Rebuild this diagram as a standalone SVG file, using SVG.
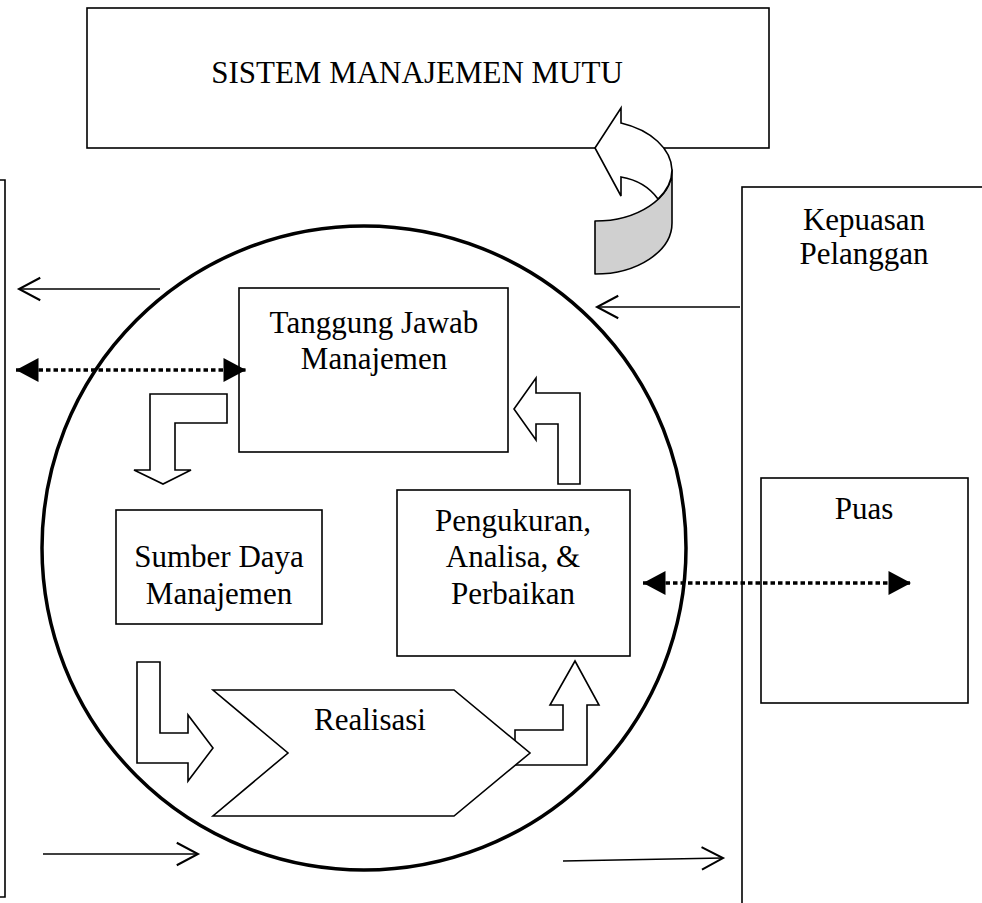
<svg xmlns="http://www.w3.org/2000/svg" width="982" height="903" viewBox="0 0 982 903">
<defs>
<style>
.bx{fill:#fff;stroke:#000;stroke-width:1.6}
.ln{fill:none;stroke:#000;stroke-width:1.6}
.dot{fill:none;stroke:#000;stroke-width:3.5;stroke-dasharray:4.5 3}
.sh{fill:#fff;stroke:#000;stroke-width:1.6;stroke-linejoin:miter}
.t{font-family:"Liberation Serif","Times New Roman",serif;font-size:31px;fill:#000;text-anchor:middle}
</style>
<marker id="open" markerUnits="userSpaceOnUse" markerWidth="30" markerHeight="30" viewBox="-20 -12 24 24" refX="0" refY="0" orient="auto">
<path d="M-17,-9 L0,0 L-17,9" fill="none" stroke="#000" stroke-width="1.6"/>
</marker>
<marker id="tri" markerUnits="userSpaceOnUse" markerWidth="30" markerHeight="30" viewBox="-18 -10 20 20" refX="0" refY="0" orient="auto-start-reverse">
<path d="M-15,-8 L0,0 L-15,8 Z" fill="#000" stroke="none"/>
</marker>
</defs>

<g id="sistem">
<rect class="bx" x="87" y="8" width="682" height="140"/>
<text class="t" x="417" y="83">SISTEM MANAJEMEN MUTU</text>
</g>

<g id="left-box">
<path class="ln" d="M0,180 H5 V897 H0"/>
</g>

<g id="kepuasan">
<rect class="bx" x="742" y="187" width="260" height="730"/>
<text class="t" x="864" y="230">Kepuasan</text>
<text class="t" x="864" y="264">Pelanggan</text>
</g>

<g id="puas">
<rect class="bx" x="761" y="478" width="207" height="225"/>
<text class="t" x="864" y="519">Puas</text>
</g>

<g id="circle">
<circle cx="364" cy="548" r="322" fill="none" stroke="#000" stroke-width="3.5"/>
</g>

<g id="curved-arrow">
<path d="M595,221 A77,51 0 0 0 672,170 L672,223 A77,51 0 0 1 595,274 Z" fill="#d0d0d0" stroke="#000" stroke-width="1.6" stroke-linejoin="round"/>
<path d="M595,148 L621,108 L621,123 A77,51 0 0 1 672,170 A77,51 0 0 1 658,199 Q645,181 621,177 L621,196 Z" class="sh"/>
</g>

<g id="tanggung-jawab">
<rect class="bx" x="239" y="288" width="269" height="164"/>
<text class="t" x="374" y="333">Tanggung Jawab</text>
<text class="t" x="374" y="369">Manajemen</text>
</g>

<g id="sumber-daya">
<rect class="bx" x="116" y="510" width="206" height="114"/>
<text class="t" x="219" y="567">Sumber Daya</text>
<text class="t" x="219" y="604">Manajemen</text>
</g>

<g id="pengukuran">
<rect class="bx" x="397" y="490" width="233" height="166"/>
<text class="t" x="513" y="531">Pengukuran,</text>
<text class="t" x="513" y="567">Analisa, &amp;</text>
<text class="t" x="513" y="604">Perbaikan</text>
</g>

<g id="arrow-down">
<polygon class="sh" points="150,394 227,394 227,423 175,423 175,470 191,470 163,484 134,470 150,470"/>
</g>
<g id="arrow-up-left">
<polygon class="sh" points="514,409 536,378 536,393 580,393 580,484 558,484 558,424 536,424 536,440"/>
</g>
<g id="arrow-right">
<polygon class="sh" points="137,662 160,662 160,733 188,733 188,715 213,748 188,781 188,763 137,763"/>
</g>
<g id="arrow-up">
<polygon class="sh" points="575,661 599,705 587,705 587,765 515,765 515,730 563,730 563,705 550,705"/>
</g>

<g id="realisasi">
<polygon class="sh" points="213,690 454,690 530,753 454,816 213,816 288,753"/>
<text class="t" x="370" y="730">Realisasi</text>
</g>

<g id="connectors">
<path class="ln" d="M160,289 H19" marker-end="url(#open)"/>
<path class="ln" d="M740,307 H597" marker-end="url(#open)"/>
<path class="ln" d="M43,854 H198" marker-end="url(#open)"/>
<path class="ln" d="M563,861 L723,858" marker-end="url(#open)"/>
<path class="dot" d="M16,370 H246" marker-start="url(#tri)" marker-end="url(#tri)"/>
<path class="dot" d="M643,583 H911" marker-start="url(#tri)" marker-end="url(#tri)"/>
</g>
</svg>
